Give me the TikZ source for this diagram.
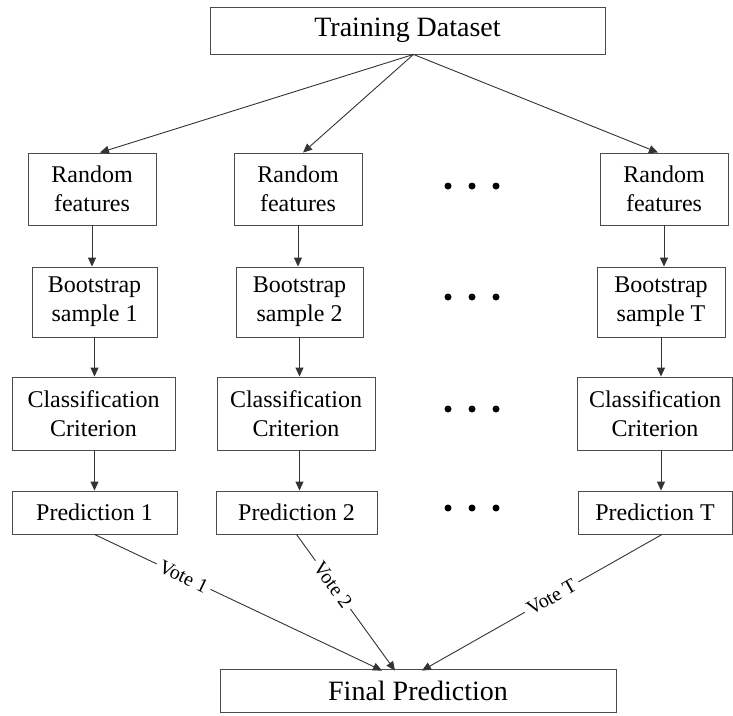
\documentclass[tikz,border=0pt]{standalone}
\usepackage{fontspec}
\setmainfont{Liberation Serif}
\usetikzlibrary{arrows.meta}
\begin{document}
\begin{tikzpicture}[x=1pt,y=-1pt,
  box/.style={draw=black!70,line width=0.9pt,inner sep=0pt,align=center,
    font=\rmfamily\fontsize{24}{29}\selectfont},
  bigbox/.style={box,font=\rmfamily\fontsize{28}{33}\selectfont},
  arr/.style={draw=black!80,line width=0.9pt,-{Triangle[length=9pt,width=8pt]}},
  vote/.style={sloped,fill=white,inner sep=4pt,font=\rmfamily\fontsize{20}{24}\selectfont},
  dot/.style={circle,fill=black,inner sep=0pt,minimum size=7pt}]
\useasboundingbox (0,0) rectangle (733,715);

% top and bottom boxes
\node[bigbox,minimum width=395,minimum height=47] (train) at (407.5,30.5) {Training Dataset};
\node[bigbox,minimum width=396,minimum height=43] (final) at (418,690.5) {Final Prediction};

% column 1
\node[box,minimum width=128,minimum height=72] (rf1) at (92,189) {Random\\features};
\node[box,minimum width=125,minimum height=70] (bs1) at (94.5,302) {Bootstrap\\sample 1};
\node[box,minimum width=163,minimum height=73] (cc1) at (93.5,413.5) {Classification\\Criterion};
\node[box,minimum width=165,minimum height=43] (pr1) at (94.5,512.5) {Prediction 1};

% column 2
\node[box,minimum width=128,minimum height=72] (rf2) at (298,189) {Random\\features};
\node[box,minimum width=127,minimum height=70] (bs2) at (299.5,302) {Bootstrap\\sample 2};
\node[box,minimum width=158,minimum height=73] (cc2) at (296,413.5) {Classification\\Criterion};
\node[box,minimum width=161,minimum height=43] (pr2) at (296.5,512.5) {Prediction 2};

% column T
\node[box,minimum width=128,minimum height=72] (rf3) at (664,189) {Random\\features};
\node[box,minimum width=128,minimum height=70] (bs3) at (661,302) {Bootstrap\\sample T};
\node[box,minimum width=155,minimum height=73] (cc3) at (655,413.5) {Classification\\Criterion};
\node[box,minimum width=154,minimum height=43] (pr3) at (655,512.5) {Prediction T};

% ellipsis dots between columns
\foreach \r [count=\i] in {186,297,409,508}{
  \node[dot] (da\i) at (448,\r) {};
  \node[dot] (db\i) at (472,\r) {};
  \node[dot] (dc\i) at (496,\r) {};
}

% dataset to feature selection
\draw[arr] ([xshift=6]train.south) -- ([xshift=8]rf1.north);
\draw[arr] ([xshift=6]train.south) -- ([xshift=5]rf2.north);
\draw[arr] ([xshift=6]train.south) -- ([xshift=-6]rf3.north);

% vertical chains
\foreach \c in {1,2,3}{
  \draw[arr] (rf\c.south) -- (rf\c.south |- bs\c.north);
  \draw[arr] (bs\c.south) -- (bs\c.south |- cc\c.north);
  \draw[arr] (cc\c.south -| bs\c.south) -- (bs\c.south |- pr\c.north);
}

% votes
\draw[arr] (pr1.south) -- node[vote,pos=0.31] {Vote 1} ([xshift=-36,yshift=-2]final.north);
\draw[arr] (pr2.south) -- node[vote,pos=0.37] {Vote 2} ([xshift=-23,yshift=-2]final.north);
\draw[arr] ([xshift=7]pr3.south) -- node[vote,pos=0.46] {Vote T} ([xshift=4,yshift=-2]final.north);
\end{tikzpicture}
\end{document}
